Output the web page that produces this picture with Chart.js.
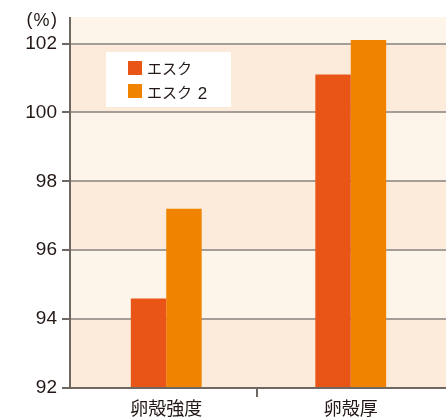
<!DOCTYPE html>
<html>
<head>
<meta charset="utf-8">
<script src="https://cdn.jsdelivr.net/npm/chart.js@4/dist/chart.umd.min.js"></script>
<style>
html,body{margin:0;padding:0;background:#fff;}
#wrap{width:446px;height:417px;position:relative;}
</style>
</head>
<body>
<div id="wrap"><canvas id="c" width="446" height="417"></canvas></div>
<script>
const categories = ['卵殻強度', '卵殻厚'];
const seriesNames = ['エスク', 'エスク 2'];
const esuku = [94.6, 101.1];
const esuku2 = [97.2, 102.1];
const yTicks = [92, 94, 96, 98, 100, 102];
const unitLabel = ['(', '%', ')'];

const TXT = '#231815';
const GRID = '#a59e98';
const AXIS = '#6f6762';
const LIGHT = '#fef5ea';
const DARK = '#fcebda';
const COLORS = ['#e95516', '#f08300'];
const FRAME_L = 70, FRAME_R = 446;
const CLEAR = 'rgba(0,0,0,0)';

function drawRuns(ctx, text, x, yc) {
  const parts = text.match(/[\x21-\x7e]+|[^\x21-\x7e]+/g) || [];
  parts.forEach((p, i) => {
    const latin = /^[\x21-\x7e]+$/.test(p);
    if (latin) {
      if (i > 0) x += 2.5;
      ctx.font = '17px "Liberation Sans", Arial, sans-serif';
      ctx.textBaseline = 'alphabetic';
      ctx.fillText(p, x, yc + 6.8);
    } else {
      ctx.font = '15px "Noto Sans CJK JP", sans-serif';
      ctx.textBaseline = 'middle';
      ctx.fillText(p, x, yc);
    }
    x += ctx.measureText(p).width;
  });
}

const framePlugin = {
  id: 'frame',
  beforeDraw(chart) {
    const {ctx, chartArea: a, scales: {y}} = chart;
    ctx.save();
    ctx.fillStyle = LIGHT;
    ctx.fillRect(FRAME_L, a.top, FRAME_R - FRAME_L, a.bottom - a.top);
    ctx.fillStyle = DARK;
    for (let i = 0; i < yTicks.length - 1; i += 2) {
      const t = Math.round(y.getPixelForValue(yTicks[i + 1]));
      const b = Math.round(y.getPixelForValue(yTicks[i]));
      ctx.fillRect(FRAME_L, t, FRAME_R - FRAME_L, b - t);
    }
    ctx.restore();
  },
  beforeDatasetsDraw(chart) {
    const {ctx, scales: {y}} = chart;
    ctx.save();
    ctx.lineWidth = 2;
    yTicks.forEach(v => {
      const py = Math.round(y.getPixelForValue(v));
      if (v !== yTicks[0]) {
        ctx.strokeStyle = GRID;
        ctx.beginPath(); ctx.moveTo(FRAME_L, py); ctx.lineTo(FRAME_R, py); ctx.stroke();
      }
      ctx.strokeStyle = AXIS;
      ctx.beginPath(); ctx.moveTo(FRAME_L - 8, py); ctx.lineTo(FRAME_L, py); ctx.stroke();
    });
    ctx.restore();
  },
  afterDatasetsDraw(chart) {
    const {ctx, chartArea: a, scales: {x}} = chart;
    ctx.save();
    ctx.strokeStyle = AXIS;
    ctx.lineWidth = 2;
    ctx.beginPath(); ctx.moveTo(FRAME_L - 1, a.bottom); ctx.lineTo(FRAME_R, a.bottom); ctx.stroke();
    ctx.beginPath(); ctx.moveTo(FRAME_L, a.top); ctx.lineTo(FRAME_L, a.bottom); ctx.stroke();
    const sep = Math.round((x.getPixelForValue(0) + x.getPixelForValue(1)) / 2) - 2;
    ctx.beginPath(); ctx.moveTo(sep, a.bottom); ctx.lineTo(sep, a.bottom + 9); ctx.stroke();
    ctx.restore();
  },
  afterDraw(chart) {
    const {ctx} = chart;
    ctx.save();
    ctx.fillStyle = TXT;
    ctx.textBaseline = 'alphabetic';
    ctx.textAlign = 'left';
    ctx.font = '18px "Liberation Sans", Arial, sans-serif';
    ctx.fillText(unitLabel[0], 26.5, 24.5);
    ctx.fillText(unitLabel[1], 33.5, 25.5);
    ctx.fillText(unitLabel[2], 51, 24.5);
    ctx.fillStyle = '#ffffff';
    ctx.fillRect(106, 52, 125, 55);
    chart.data.datasets.forEach((ds, i) => {
      const sq = 68 + i * 23;
      ctx.fillStyle = ds.backgroundColor;
      ctx.fillRect(128, sq - 7, 14, 14);
      ctx.fillStyle = TXT;
      drawRuns(ctx, ds.label, 147, 68.5 + i * 24);
    });
    ctx.restore();
  }
};

new Chart(document.getElementById('c'), {
  type: 'bar',
  data: {
    labels: categories,
    datasets: [
      {label: seriesNames[0], data: esuku, backgroundColor: COLORS[0]},
      {label: seriesNames[1], data: esuku2, backgroundColor: COLORS[1]}
    ]
  },
  options: {
    responsive: false,
    animation: false,
    devicePixelRatio: 1,
    layout: {padding: {top: 17, right: 3, left: 0, bottom: 0}},
    datasets: {bar: {categoryPercentage: 0.384, barPercentage: 1, borderWidth: 0}},
    plugins: {legend: {display: false}, tooltip: {enabled: false}},
    scales: {
      x: {
        afterFit(s) { s.height = 29; },
        grid: {drawOnChartArea: false, color: CLEAR, tickColor: CLEAR, tickLength: 9},
        border: {display: false},
        ticks: {color: TXT, padding: 0, font: {size: 18, family: '"Noto Sans CJK JP", sans-serif'}}
      },
      y: {
        min: 92,
        max: 102.77,
        afterFit(s) { s.width = 74; },
        afterBuildTicks(s) { s.ticks = yTicks.map(v => ({value: v})); },
        grid: {drawOnChartArea: false, color: CLEAR, tickColor: CLEAR, tickLength: 12},
        border: {display: false},
        ticks: {
          color: TXT,
          padding: 5,
          font: {size: 19, family: '"Liberation Sans", Arial, sans-serif'}
        }
      }
    }
  },
  plugins: [framePlugin]
});
</script>
</body>
</html>
